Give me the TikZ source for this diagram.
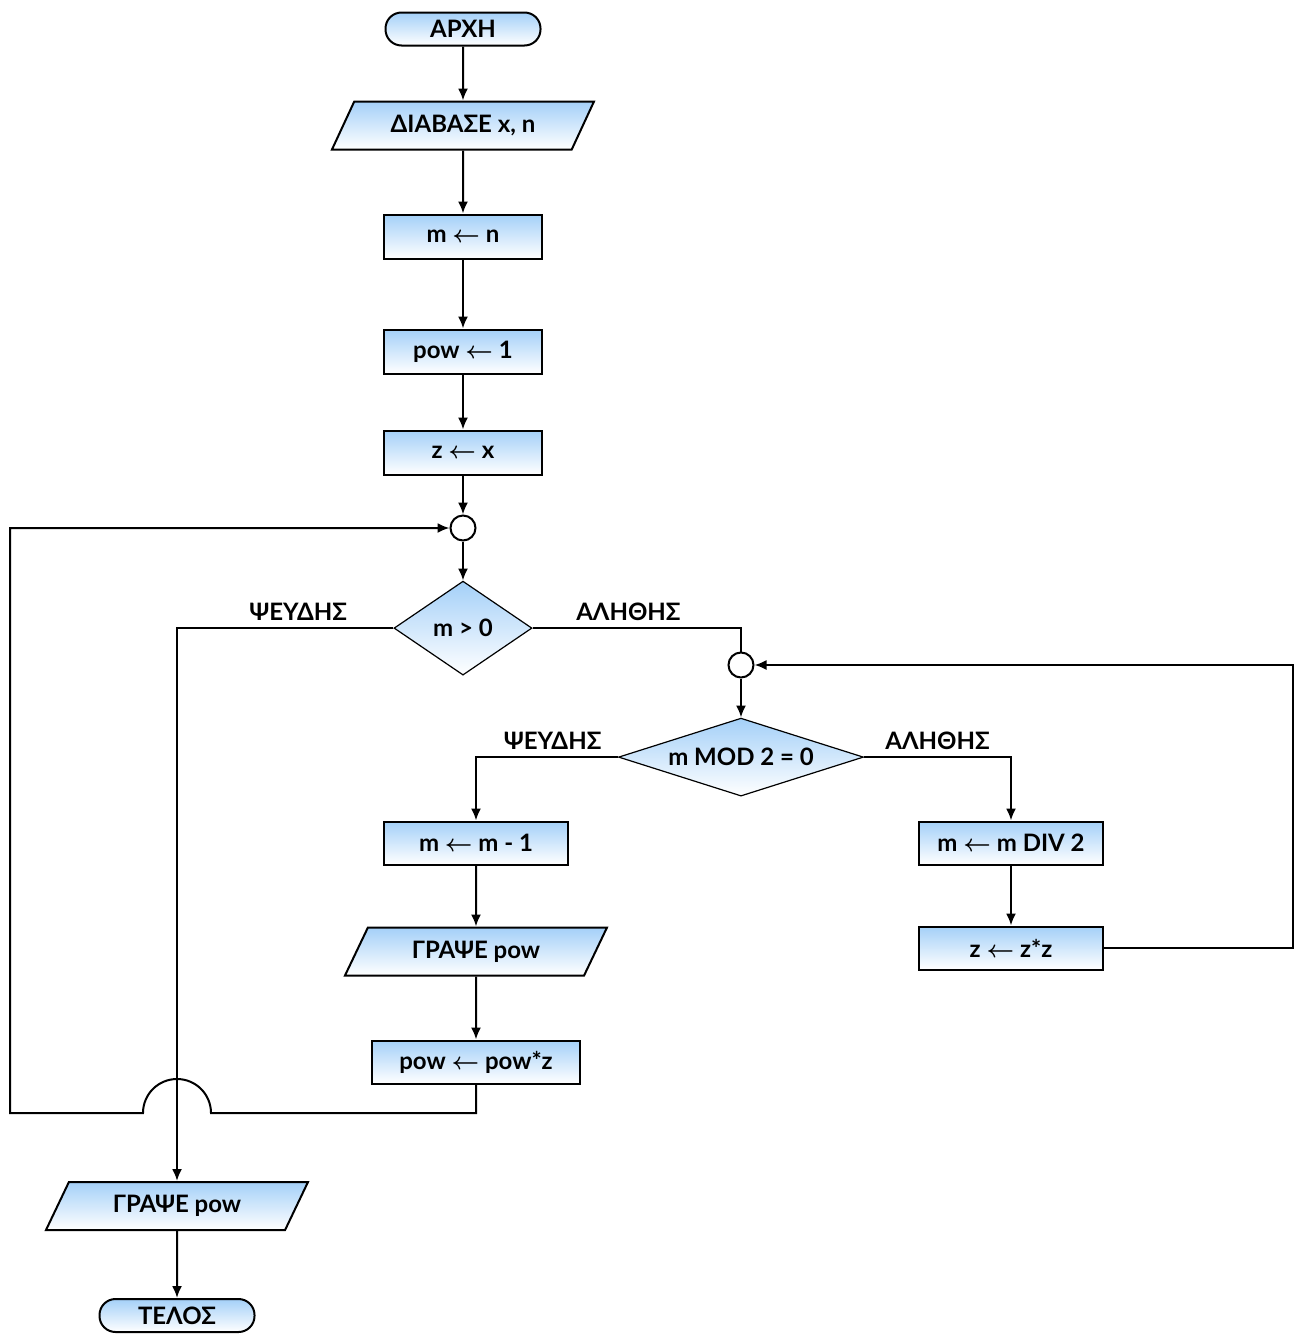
\documentclass[tikz,border=0pt]{standalone}
\usepackage{fontspec}
\setmainfont{Lato}
\usetikzlibrary{arrows.meta,positioning,shapes.geometric}
\definecolor{fillblue}{RGB}{164,208,248}
\newcommand{\assign}{{\boldmath$\leftarrow$}}

\begin{document}
\begin{tikzpicture}[
x=0.5pt, y=-0.5pt,
node distance=28pt,
every node/.style={font=\bfseries\fontsize{12}{14}\selectfont},
terminal/.style={
draw,
line width=1pt,
rounded corners=8pt,
minimum width=77.5pt,
minimum height=16.5pt,
inner sep=0pt,
top color=fillblue,
bottom color=white
},
process/.style={
draw,
line width=1pt,
minimum width=79pt,
minimum height=22pt,
inner sep=0pt,
top color=fillblue,
bottom color=white
},
io/.style={
draw,
line width=1pt,
trapezium,
trapezium left angle=43,
trapezium right angle=137,
trapezium stretches body,
minimum width=131pt,
minimum height=24pt,
inner sep=0pt,
top color=fillblue,
bottom color=white
},
decision/.style={
draw,
line width=0.6pt,
diamond,
inner sep=0pt,
top color=fillblue,
bottom color=white
},
joint/.style={draw, circle, line width=1pt, minimum size=12.5pt, inner sep=0pt, fill=white},
arrow/.style={-{Latex[length=6pt,width=5pt]}, line width=1pt},
line/.style={line width=1pt}
]
\useasboundingbox (0,0) rectangle (1296,1339);

% Main column
\node[terminal] (start) at (463,29) {ΑΡΧΗ};
\node[io, below=27pt of start] (read) {ΔΙΑΒΑΣΕ x, n};
\node[process, below=31.5pt of read] (mn) {m \assign{} n};
\node[process, below=34.5pt of mn] (pow1) {pow \assign{} 1};
\node[process, below=27.5pt of pow1] (zx) {z \assign{} x};
\node[joint, below=19.5pt of zx] (join1) {};
\node[decision, aspect=1.47, minimum width=69pt, minimum height=47pt, below=19.5pt of join1] (test1) {m > 0};

% Inner loop
\node[joint] (join2) at (741,665) {};
\node[decision, aspect=3.14, minimum width=122.5pt, minimum height=39pt, below=19.5pt of join2] (test2) {m MOD 2 = 0};
\node[process, minimum width=92pt, minimum height=21.5pt] (m1) at (476,843) {m \assign{} m - 1};
\node[process, minimum width=92pt, minimum height=21.5pt] (div) at (1011,843) {m \assign{} m DIV 2};
\node[process, minimum width=92pt, minimum height=21.5pt, below=30pt of div] (zz) {z \assign{} z*z};
\node[io, below=30.5pt of m1] (write1) {ΓΡΑΨΕ pow};
\node[process, minimum width=104pt, minimum height=21.5pt, below=31.5pt of write1] (powz) {pow \assign{} pow*z};

% Exit
\node[io] (write2) at (177,1206) {ΓΡΑΨΕ pow};
\node[terminal, below=33.5pt of write2] (end) {ΤΕΛΟΣ};

\coordinate (backR) at ([xshift=94.5pt]zz.east);
\coordinate (hopR) at (211,1113);
\coordinate (backL) at (10,1113);

% Arrows
\draw[arrow] (start) -- (read);
\draw[arrow] (read) -- (mn);
\draw[arrow] (mn) -- (pow1);
\draw[arrow] (pow1) -- (zx);
\draw[arrow] (zx) -- (join1);
\draw[arrow] (join1) -- (test1);
\draw[arrow] (test1.west) -| node[above, pos=0.22]{ΨΕΥΔΗΣ} (write2.north);
\draw[line] (test1.east) -| node[above, pos=0.23]{ΑΛΗΘΗΣ} (join2.north);
\draw[arrow] (join2) -- (test2);
\draw[arrow] (test2.west) -| node[above, pos=0.23]{ΨΕΥΔΗΣ} (m1.north);
\draw[arrow] (test2.east) -| node[above, pos=0.25]{ΑΛΗΘΗΣ} (div.north);
\draw[arrow] (div) -- (zz);
\draw[arrow] (zz.east) -- (backR) |- (join2.east);
\draw[arrow] (m1) -- (write1);
\draw[arrow] (write1) -- (powz);
\draw[arrow] (powz.south) |- (hopR) arc[start angle=0, end angle=180, radius=17pt] -- (backL) |- (join1.west);
\draw[arrow] (write2) -- (end);

\end{tikzpicture}
\end{document}
